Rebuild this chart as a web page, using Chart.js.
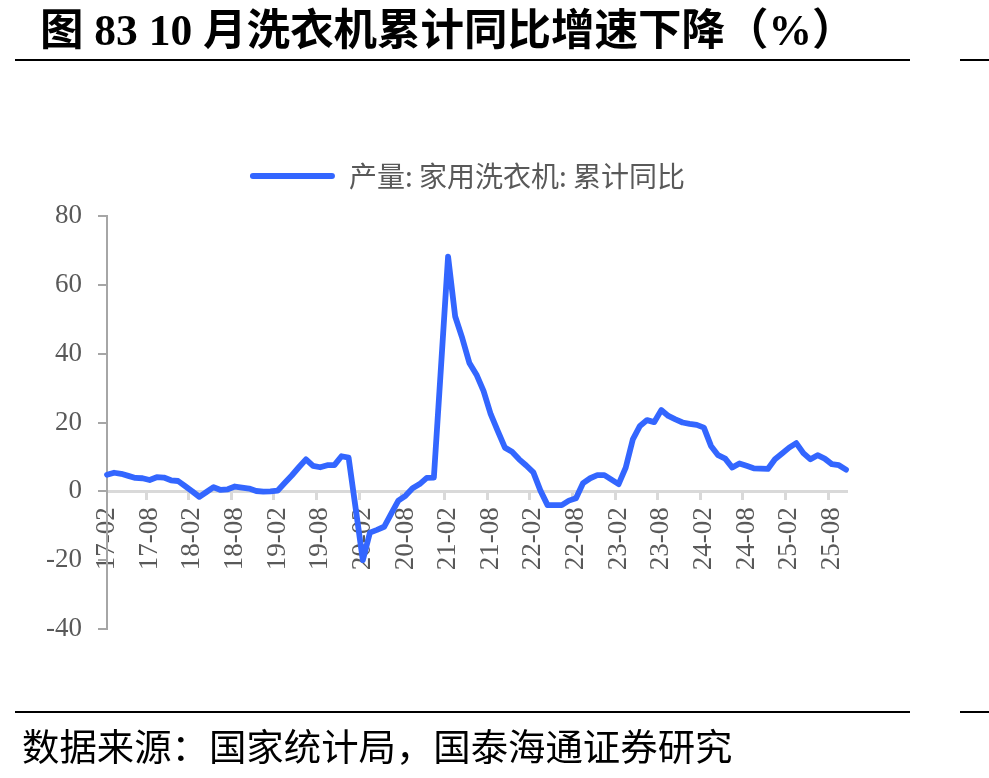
<!DOCTYPE html>
<html>
<head>
<meta charset="utf-8">
<script src="https://cdn.jsdelivr.net/npm/chart.js@4.4.1/dist/chart.umd.min.js"></script>
<style>
  html, body { margin: 0; padding: 0; background: #ffffff; }
  #wrap { position: relative; width: 989px; height: 778px; overflow: hidden; background: #fff; }
  #chart { position: absolute; left: 0; top: 0; }
  .title { position: absolute; left: 40px; top: 5px; font-family: "Liberation Serif", "Noto Sans CJK SC", serif; font-weight: bold; font-size: 43.5px; color: #000; white-space: nowrap; line-height: 50px; }
  .rule { position: absolute; height: 2px; background: #000; }
  .source { position: absolute; left: 22px; top: 721px; font-family: "Noto Sans CJK SC", sans-serif; font-size: 37.4px; color: #000; white-space: nowrap; line-height: 48px; }
</style>
</head>
<body>
<div id="wrap">
  <canvas id="chart" width="989" height="778"></canvas>
  <div class="title">图 83 10 月洗衣机累计同比增速下降（%）</div>
  <div class="rule" style="left:15px; top:59px; width:895px;"></div>
  <div class="rule" style="left:960px; top:59px; width:29px;"></div>
  <div class="rule" style="left:15px; top:711px; width:895px;"></div>
  <div class="rule" style="left:960px; top:711px; width:29px;"></div>
  <div class="source">数据来源：国家统计局，国泰海通证券研究</div>
</div>
<script>
// ---- data ----
const months = [
  '17-02','17-03','17-04','17-05','17-06','17-07','17-08','17-09','17-10','17-11','17-12',
  '18-01','18-02','18-03','18-04','18-05','18-06','18-07','18-08','18-09','18-10','18-11','18-12',
  '19-01','19-02','19-03','19-04','19-05','19-06','19-07','19-08','19-09','19-10','19-11','19-12',
  '20-01','20-02','20-03','20-04','20-05','20-06','20-07','20-08','20-09','20-10','20-11','20-12',
  '21-01','21-02','21-03','21-04','21-05','21-06','21-07','21-08','21-09','21-10','21-11','21-12',
  '22-01','22-02','22-03','22-04','22-05','22-06','22-07','22-08','22-09','22-10','22-11','22-12',
  '23-01','23-02','23-03','23-04','23-05','23-06','23-07','23-08','23-09','23-10','23-11','23-12',
  '24-01','24-02','24-03','24-04','24-05','24-06','24-07','24-08','24-09','24-10','24-11','24-12',
  '25-01','25-02','25-03','25-04','25-05','25-06','25-07','25-08','25-09','25-10'
];
const washerYoY = [
  4.8, 5.4, 5.1, 4.5, 3.9, 3.8, 3.3, 4.1, 4.0, 3.2, 3.0,
  1.5, 0.0, -1.6, -0.2, 1.2, 0.4, 0.6, 1.4, 1.1, 0.8, 0.1, -0.1,
  0.0, 0.2, 2.4, 4.6, 7.0, 9.3, 7.4, 7.0, 7.6, 7.6, 10.2, 9.8,
  -5.0, -20.0, -12.0, -11.2, -10.3, -6.5, -2.7, -1.3, 0.9, 2.1, 3.9, 4.0,
  36.0, 68.2, 50.8, 44.5, 37.3, 33.9, 29.1, 22.4, 17.5, 12.7, 11.5, 9.3,
  7.5, 5.5, 0.2, -4.0, -4.0, -4.0, -2.7, -2.0, 2.4, 3.8, 4.7, 4.7,
  3.4, 2.1, 6.9, 15.1, 19.0, 20.7, 20.1, 23.6, 21.9, 20.9, 20.0, 19.6,
  19.3, 18.5, 13.2, 10.5, 9.5, 6.9, 8.1, 7.4, 6.7, 6.6, 6.5, 9.3,
  11.0, 12.7, 14.0, 11.1, 9.3, 10.5, 9.5, 7.9, 7.6, 6.3
];
const xTickLabels = ['17-02','17-08','18-02','18-08','19-02','19-08','20-02','20-08','21-02','21-08',
                     '22-02','22-08','23-02','23-08','24-02','24-08','25-02','25-08'];
const yMin = -40, yMax = 80, yStep = 20;
const seriesName = '产量: 家用洗衣机: 累计同比';

const LINE_COLOR = '#3366FF';
const TEXT_GRAY = '#595959';
const AXIS_FONT = { family: '"Liberation Serif", serif', size: 27 };

new Chart(document.getElementById('chart'), {
  type: 'line',
  data: {
    labels: months,
    datasets: [{
      label: seriesName,
      data: washerYoY,
      borderColor: LINE_COLOR,
      backgroundColor: LINE_COLOR,
      borderWidth: 5.8,
      pointRadius: 0,
      tension: 0,
      borderJoinStyle: 'round',
      borderCapStyle: 'round',
      fill: false
    }]
  },
  options: {
    responsive: false,
    animation: false,
    devicePixelRatio: 1,
    layout: { padding: { left: 89, right: 143, top: 154, bottom: 149 } },
    plugins: {
      tooltip: { enabled: false },
      // empty spacer box placed between the legend and the plot area
      subtitle: { display: true, text: '', position: 'top', weight: 500, font: { size: 1, lineHeight: 1 }, padding: { top: 15, bottom: 0 } },
      legend: {
        position: 'top',
        labels: {
          boxWidth: 85,
          boxHeight: 6,
          useBorderRadius: true,
          borderRadius: 3,
          padding: 8,
          color: TEXT_GRAY,
          font: { family: '"Noto Sans CJK SC", sans-serif', size: 28 },
          generateLabels(chart) {
            const items = Chart.defaults.plugins.legend.labels.generateLabels(chart);
            items.forEach(it => { it.fillStyle = LINE_COLOR; it.strokeStyle = LINE_COLOR; it.lineWidth = 0; });
            return items;
          }
        }
      }
    },
    scales: {
      x: {
        type: 'category',
        position: { y: 0 },
        offset: false,
        border: { display: true, color: '#d9d9d9', width: 3 },
        grid: {
          offset: true,
          drawOnChartArea: false,
          drawTicks: true,
          tickLength: 7,
          lineWidth: 3,
          color: ctx => (ctx.tick && xTickLabels.includes(months[ctx.index])) ? '#d9d9d9' : 'rgba(0,0,0,0)'
        },
        ticks: {
          autoSkip: false,
          minRotation: 90,
          maxRotation: 90,
          padding: 9,
          color: TEXT_GRAY,
          font: AXIS_FONT,
          callback(value) {
            const lab = this.getLabelForValue(value);
            return xTickLabels.includes(lab) ? lab : '';
          }
        }
      },
      y: {
        min: yMin,
        max: yMax,
        afterFit(scale) { scale.width = 18; },
        border: { display: true, color: '#a6a6a6', width: 2 },
        grid: { drawOnChartArea: false, drawTicks: true, tickLength: 9, color: '#a6a6a6', lineWidth: 2 },
        ticks: {
          stepSize: yStep,
          mirror: true,
          crossAlign: 'far',
          padding: -61,
          color: TEXT_GRAY,
          font: AXIS_FONT
        }
      }
    }
  }
});
</script>
</body>
</html>
